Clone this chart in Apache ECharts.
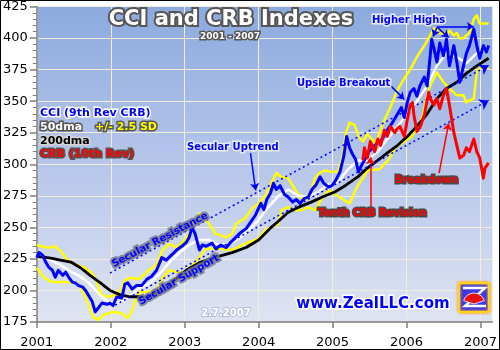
<!DOCTYPE html>
<html>
<head>
<meta charset="utf-8">
<script src="https://cdn.jsdelivr.net/npm/echarts/dist/echarts.min.js"></script>
<style>
html,body{margin:0;padding:0;background:#fff}
#chart{width:500px;height:350px}
</style>
</head>
<body>
<div id="chart"></div>
<script>
// Years labelled on the time axis
const yearTicks = [2001, 2002, 2003, 2004, 2005, 2006, 2007];

// CCI (9th revision CRB), [year, index]
const cci = [
  [2001.00,226],[2001.03,230],[2001.08,228],[2001.12,222.5],[2001.16,218.5],[2001.21,216],[2001.25,210.6],
  [2001.29,216],[2001.35,212],[2001.39,214.5],[2001.43,210.6],[2001.48,206.6],[2001.52,206],[2001.56,204],
  [2001.62,202.7],[2001.66,200],[2001.70,196],[2001.75,191],[2001.79,183],[2001.83,186],[2001.88,190],
  [2001.95,189],[2001.99,190],[2002.03,188],[2002.08,194.8],[2002.15,194],[2002.19,205],[2002.23,206],
  [2002.29,201],[2002.35,204],[2002.42,204],[2002.49,209],[2002.55,211],[2002.62,216],[2002.69,226],
  [2002.75,224],[2002.82,228],[2002.89,232],[2002.96,235],[2003.02,238],[2003.06,242],[2003.10,250],
  [2003.14,245],[2003.20,232],[2003.24,236],[2003.29,235],[2003.37,237.5],[2003.42,233],[2003.49,236],
  [2003.56,234],[2003.62,238],[2003.69,242],[2003.76,246],[2003.83,249],[2003.89,254],[2003.96,260],
  [2004.03,269],[2004.07,264],[2004.11,272],[2004.16,277],[2004.20,285],[2004.24,280],[2004.29,283],
  [2004.35,276],[2004.40,274],[2004.46,270],[2004.51,272],[2004.56,269],[2004.62,273],[2004.67,274],
  [2004.72,280],[2004.78,284],[2004.83,290],[2004.88,285],[2004.94,282],[2004.99,283],[2005.04,287],
  [2005.10,294],[2005.15,306],[2005.19,322],[2005.23,313],[2005.27,308],[2005.31,304],[2005.35,294],
  [2005.39,299],[2005.43,303],[2005.49,310],[2005.54,313],[2005.59,316],[2005.65,318],[2005.70,323],
  [2005.75,328],[2005.81,333],[2005.85,337],[2005.89,341],[2005.93,345],[2005.97,337],[2006.01,349],
  [2006.05,357],[2006.10,360],[2006.14,354],[2006.18,362],[2006.24,369],[2006.28,362],[2006.32,386],
  [2006.34,399],[2006.37,392],[2006.41,381],[2006.45,396],[2006.50,386],[2006.54,399],[2006.58,378],
  [2006.64,394],[2006.68,381],[2006.72,365],[2006.77,378],[2006.81,388],[2006.85,394],[2006.91,407],
  [2006.95,394],[2006.99,384],[2007.04,394],[2007.08,389],[2007.11,394]
];

// 50-day moving average of the CCI
const sma50 = [
  [2001.00,228],[2001.19,224],[2001.32,220],[2001.46,215],[2001.59,211],[2001.72,205],[2001.86,196],
  [2001.99,190],[2002.13,191],[2002.26,196],[2002.39,202],[2002.53,206],[2002.66,213],[2002.79,222],
  [2002.93,230],[2003.06,236],[2003.19,240],[2003.33,240],[2003.46,236],[2003.60,237],[2003.73,241],
  [2003.87,248],[2004.00,256],[2004.13,266],[2004.27,275],[2004.40,280],[2004.54,275],[2004.67,274],
  [2004.80,278],[2004.94,284],[2005.07,286],[2005.21,296],[2005.34,303],[2005.47,303],[2005.61,310],
  [2005.74,320],[2005.88,330],[2006.01,340],[2006.14,350],[2006.28,362],[2006.41,378],[2006.54,388],
  [2006.68,385],[2006.81,380],[2006.95,388],[2007.11,393]
];

// Upper band: 50dma + 2.5 standard deviations
const bandHigh = [
  [2001.00,236],[2001.09,234.5],[2001.19,234],[2001.25,235],[2001.32,231],[2001.39,226],[2001.46,222],
  [2001.55,220],[2001.63,218.5],[2001.72,215],[2001.79,210],[2001.83,203],[2001.88,196],[2001.99,195],
  [2002.10,197],[2002.19,208],[2002.26,210],[2002.39,209],[2002.49,215],[2002.57,218],[2002.63,222],
  [2002.70,232],[2002.79,237],[2002.89,234],[2002.97,238],[2003.06,245],[2003.13,256],[2003.20,261],
  [2003.29,256],[2003.36,250],[2003.42,245],[2003.56,242],[2003.64,245],[2003.70,253],[2003.83,258],
  [2003.91,265],[2004.00,269],[2004.09,275],[2004.17,285],[2004.24,293],[2004.31,290],[2004.40,289],
  [2004.47,282],[2004.56,274],[2004.63,271.5],[2004.71,279],[2004.76,289],[2004.83,293.6],[2004.90,295],
  [2004.98,294],[2005.07,294],[2005.13,305],[2005.18,325],[2005.23,333],[2005.30,331],[2005.35,322],
  [2005.41,318],[2005.47,324],[2005.57,317],[2005.61,321],[2005.70,335],[2005.78,345],[2005.87,358],
  [2005.97,368],[2006.05,375],[2006.14,385],[2006.24,394],[2006.30,400],[2006.37,407.6],[2006.41,407.6],
  [2006.45,403.6],[2006.50,404],[2006.54,402],[2006.58,406],[2006.64,402],[2006.68,404],[2006.72,399.6],
  [2006.77,400],[2006.81,402],[2006.85,404],[2006.91,415],[2006.95,418],[2006.99,411.5],[2007.04,411.5],
  [2007.11,411.5]
];

// Lower band: 50dma - 2.5 standard deviations
const bandLow = [
  [2001.00,218],[2001.09,210.6],[2001.19,207],[2001.25,206.6],[2001.41,206.6],[2001.52,206],[2001.59,202.7],
  [2001.68,192],[2001.76,179],[2001.83,176.6],[2001.90,180.5],[2002.03,183],[2002.15,182],[2002.23,178],
  [2002.29,184.5],[2002.33,192],[2002.39,198.7],[2002.49,198.7],[2002.62,200],[2002.70,209.8],[2002.79,216],
  [2002.89,214.5],[2002.99,214],[2003.09,219],[2003.20,226],[2003.28,233],[2003.42,233.5],[2003.64,232],
  [2003.83,237.5],[2004.00,241],[2004.09,247.8],[2004.17,250],[2004.27,253],[2004.31,263.6],[2004.40,266],
  [2004.49,263.6],[2004.58,263.6],[2004.67,266],[2004.76,263.6],[2004.84,271.5],[2004.94,279.4],
  [2005.04,276],[2005.14,272],[2005.23,269],[2005.33,282],[2005.47,295],[2005.63,296],[2005.75,303],
  [2005.85,313],[2005.97,318],[2006.07,322],[2006.16,330],[2006.22,338.7],[2006.28,354.6],[2006.32,362.5],
  [2006.37,368],[2006.41,372.8],[2006.50,365],[2006.58,360],[2006.68,354.6],[2006.77,354.6],[2006.81,349],
  [2006.85,350.6],[2006.91,352],[2006.95,372.8],[2006.99,376],[2007.04,378],[2007.08,376],[2007.11,376.7]
];

// 200-day moving average of the CCI
const sma200 = [
  [2001.00,227],[2001.19,225.6],[2001.32,224],[2001.46,222.5],[2001.59,218],[2001.72,212],[2001.86,206],
  [2001.99,200],[2002.13,196.5],[2002.26,195],[2002.39,195],[2002.49,194.5],[2002.66,200],[2002.86,208],
  [2003.02,216],[2003.20,222],[2003.42,226.4],[2003.64,230],[2003.83,234],[2004.00,240],[2004.17,250],
  [2004.27,255],[2004.40,262],[2004.54,266],[2004.71,270],[2004.90,275],[2005.03,278],[2005.17,283],
  [2005.34,290],[2005.47,297],[2005.61,303],[2005.74,309],[2005.88,315],[2006.01,322],[2006.14,330],
  [2006.28,340],[2006.41,352],[2006.54,360],[2006.68,365],[2006.81,372],[2006.95,378],[2007.11,384]
];

// CRB index, 10th revision
const crb = [
  [2005.41,303],[2005.43,313],[2005.47,305],[2005.51,318],[2005.57,310],[2005.61,320],[2005.65,315],
  [2005.70,327],[2005.74,322],[2005.78,330],[2005.84,325],[2005.87,328],[2005.91,330],[2005.97,322],
  [2006.01,335],[2006.05,347],[2006.08,349],[2006.10,339],[2006.14,326],[2006.18,329],[2006.24,339],
  [2006.30,357],[2006.32,352],[2006.37,347],[2006.41,352],[2006.45,344],[2006.50,355],[2006.54,360],
  [2006.58,347],[2006.64,325],[2006.68,315],[2006.72,305],[2006.77,307],[2006.81,313],[2006.85,310],
  [2006.91,320],[2006.95,310],[2006.99,305],[2007.04,289],[2007.06,297],[2007.11,301]
];

// Secular resistance / support trend lines: [x1, y1, x2, y2]
const trendLines = [
  [2001.99, 213.8, 2007.11, 378.3],
  [2002.06, 188.4, 2007.11, 350.6]
];

// Pointer arrows for the blue and red callouts: [x1, y1, x2, y2]
const blueArrows = [
  [2003.89, 308.7, 2003.96, 279.4],
  [2005.78, 362.5, 2005.97, 351.4],
  [2006.41, 408.3, 2006.36, 401.2],
  [2006.42, 408.3, 2006.57, 400.4],
  [2006.41, 409.1, 2006.91, 409.1]
];
const redArrows = [
  [2005.51, 266, 2005.51, 305.5],
  [2006.44, 292.9, 2006.57, 332.4]
];

const FONT = '"DejaVu Sans", Verdana, sans-serif';

function lineSeries(name, data, color, width, z) {
  return {
    name, type: 'line', data, z,
    showSymbol: false, symbol: 'none', animation: false, silent: true,
    lineStyle: { color, width, join: 'round' }
  };
}

function arrowLines(list, color, width, dash, size) {
  return {
    silent: true, animation: false,
    symbol: ['none', 'arrow'], symbolSize: size,
    label: { show: false },
    lineStyle: { color, width, type: dash, opacity: 1 },
    emphasis: { disabled: true },
    data: list.map(a => [{ coord: [a[0], a[1]] }, { coord: [a[2], a[3]] }])
  };
}

// bold caption with an outline halo
function label(text, x, y, fill, stroke, size, opts) {
  opts = opts || {};
  return {
    type: 'text', x, y, z: 100, silent: true,
    rotation: opts.rotation || 0,
    style: {
      text, fill, stroke, lineWidth: opts.lineWidth || 3,
      fontSize: size, fontWeight: 'bold', fontFamily: FONT,
      align: opts.align || 'left', verticalAlign: 'middle',
      shadowColor: opts.shadow || 'rgba(0,0,0,0)', shadowBlur: opts.shadow ? 2 : 0,
      shadowOffsetX: opts.shadow ? 1 : 0, shadowOffsetY: opts.shadow ? 1 : 0
    }
  };
}

const chart = echarts.init(document.getElementById('chart'), null, { renderer: 'canvas' });

const series = [
  lineSeries('bandHigh', bandHigh, '#ffff00', 2.5, 2),
  lineSeries('bandLow', bandLow, '#ffff00', 2.5, 2),
  lineSeries('sma50', sma50, '#ffffff', 2.5, 3),
  lineSeries('sma200', sma200, '#000000', 2.8, 4),
  lineSeries('cci', cci, '#0000ff', 3, 5),
  lineSeries('crb', crb, '#ff0000', 3, 6)
];
series[5].markLine = arrowLines(redArrows, '#ff0000', 1.5, 'solid', 7);
series.push(Object.assign(lineSeries('guides', [], '#0000ff', 1, 7), {
  markLine: arrowLines(trendLines, '#0000ff', 1.5, [2, 3], 9)
}));
series.push(Object.assign(lineSeries('pointers', [], '#0000ff', 1, 7), {
  markLine: arrowLines(blueArrows, '#0000ff', 1.5, 'solid', 7)
}));

chart.setOption({
  animation: false,
  backgroundColor: '#ffffff',
  grid: {
    left: 36, right: 4, top: 6, bottom: 28, show: true, borderWidth: 0,
    backgroundColor: new echarts.graphic.LinearGradient(0, 0, 0, 1, [
      { offset: 0, color: '#8caade' },
      { offset: 0.5, color: '#b6c6ea' },
      { offset: 1, color: '#dfe4f2' }
    ])
  },
  xAxis: {
    type: 'value', min: 2001, max: 2007.16, interval: 0.25,
    axisLine: { onZero: false, lineStyle: { color: '#7f7f7f', width: 1.5 } },
    axisTick: { customValues: yearTicks, length: 6, lineStyle: { color: '#7f7f7f', width: 1.5 } },
    axisLabel: { customValues: yearTicks, color: '#000', fontSize: 13, fontFamily: FONT, margin: 14,
                 formatter: v => String(Math.round(v)) },
    splitLine: { show: true, lineStyle: { color: '#f4edd9', width: 1 } }
  },
  yAxis: {
    type: 'value', min: 175, max: 425, interval: 25,
    axisLine: { show: true, lineStyle: { color: '#7f7f7f', width: 1.5 } },
    axisTick: { show: true, length: 7, lineStyle: { color: '#7f7f7f', width: 1.5 } },
    minorTick: { show: true, splitNumber: 5, length: 4, lineStyle: { color: '#7f7f7f', width: 1 } },
    axisLabel: { color: '#000', fontSize: 13, fontFamily: FONT, margin: 9 },
    splitLine: { show: true, lineStyle: { color: '#f4edd9', width: 1 } }
  },
  series,
  graphic: [
    { type: 'rect', shape: { x: 0.5, y: 0.5, width: 499, height: 349 }, silent: true, z: 200,
      style: { fill: 'none', stroke: '#000', lineWidth: 1 } },
    // headline
    label('CCI and CRB Indexes', 231, 20, '#ffffff', '#555555', 21,
      { align: 'center', lineWidth: 4, shadow: 'rgba(0,0,0,0.55)' }),
    label('2001 - 2007', 230, 37, '#ffffff', '#555555', 9, { align: 'center', lineWidth: 3 }),
    // key
    label('CCI (9th Rev CRB)', 40, 113, '#0000ff', '#ffffff', 11, { shadow: 'rgba(60,60,90,0.6)' }),
    label('50dma', 40, 127, '#ffffff', '#555555', 11),
    label('+/- 2.5 SD', 95, 127, '#ffff00', '#555555', 11),
    label('200dma', 40, 141, '#000000', '#d4d4d4', 11),
    label('CRB (10th Rev)', 40, 154, '#ff0000', '#555555', 11),
    // callouts
    label('Higher Highs', 372, 20, '#0000ff', '#e4eaf8', 10, { shadow: 'rgba(60,60,90,0.5)' }),
    label('Upside Breakout', 297, 83, '#0000ff', '#e4eaf8', 10, { shadow: 'rgba(60,60,90,0.5)' }),
    label('Secular Uptrend', 187, 147, '#0000ff', '#e4eaf8', 10, { shadow: 'rgba(60,60,90,0.5)' }),
    label('Tenth CRB Revision', 318, 213, '#ff0000', '#4a4a4a', 10),
    label('Breakdown', 395, 180, '#ff0000', '#4a4a4a', 10),
    label('Secular Resistance', 160, 240, '#0000ff', 'rgba(115,118,140,0.8)', 10,
      { align: 'center', rotation: 27.8 * Math.PI / 180, lineWidth: 4 }),
    label('Secular Support', 179, 280, '#0000ff', 'rgba(115,118,140,0.8)', 10,
      { align: 'center', rotation: 30 * Math.PI / 180, lineWidth: 4 }),
    label('2.7.2007', 226, 313, '#ffffff', 'rgba(150,160,185,0.5)', 10, { align: 'center', lineWidth: 2 }),
    label('www.ZealLLC.com', 373, 304, '#0000ff', '#ffffff', 15, { align: 'center', shadow: 'rgba(60,60,90,0.5)' }),
    // logo badge
    { type: 'rect', shape: { x: 459, y: 283, width: 30, height: 29, r: 2 }, z: 100, silent: true,
      style: { fill: '#3a3ae6', stroke: '#ffd21a', lineWidth: 2.5, shadowColor: '#ff9a30', shadowBlur: 3 } },
    { type: 'polyline', shape: { points: [[463,288],[485,288],[465,306],[486,306]] }, z: 101, silent: true,
      style: { stroke: '#ffffff', lineWidth: 2.5, fill: 'none' } },
    { type: 'sector', shape: { cx: 474, cy: 304, r: 11, r0: 0, startAngle: Math.PI * 1.1, endAngle: Math.PI * 1.9 },
      z: 102, silent: true, style: { fill: '#e81010', stroke: '#ffffff', lineWidth: 0.8 } }
  ]
});
</script>
</body>
</html>
